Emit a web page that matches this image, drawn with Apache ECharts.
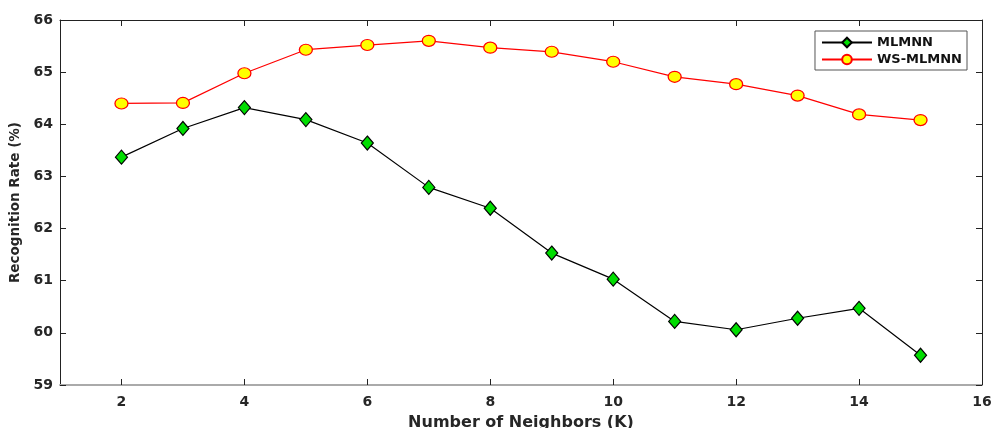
<!DOCTYPE html>
<html>
<head>
<meta charset="utf-8">
<script src="https://cdn.jsdelivr.net/npm/echarts@6/dist/echarts.min.js"></script>
<style>html,body{margin:0;padding:0;background:#fff}#c{width:991px;height:428px}</style>
</head>
<body>
<div id="c"></div>
<script>
const kValues = [2,3,4,5,6,7,8,9,10,11,12,13,14,15];
const mlmnn = [63.37,63.92,64.32,64.09,63.64,62.79,62.39,61.53,61.03,60.22,60.06,60.28,60.47,59.57];
const wsMlmnn = [64.40,64.41,64.98,65.43,65.52,65.60,65.47,65.39,65.20,64.91,64.77,64.55,64.19,64.08];
const xTicks = [2,4,6,8,10,12,14,16];
const seriesNames = ['MLMNN','WS-MLMNN'];

const font = '"DejaVu Sans", sans-serif';
const txt = '#262626';
const chart = echarts.init(document.getElementById('c'));
chart.setOption({
  animation: false,
  backgroundColor: '#fff',
  grid: {left: 60, right: 9, top: 20, bottom: 43, containLabel: false, outerBoundsMode: 'none'},
  legend: {
    right: 24, top: 31, orient: 'vertical',
    itemWidth: 50, itemHeight: 12, itemGap: 4,
    backgroundColor: '#fff', borderColor: '#555', borderWidth: 1,
    padding: [5, 5, 4, 6],
    textStyle: {fontFamily: font, fontWeight: 'bold', fontSize: 13, color: '#111'},
    data: seriesNames
  },
  xAxis: [{
    type: 'value', min: 1, max: 16, position: 'bottom',
    name: 'Number of Neighbors (K)', nameLocation: 'middle', nameGap: 30,
    nameTextStyle: {fontFamily: font, fontWeight: 'bold', fontSize: 16, color: txt},
    axisLine: {show: true, onZero: false, lineStyle: {color: '#aaa', width: 2}},
    axisTick: {show: true, inside: true, length: 6, customValues: xTicks, lineStyle: {color: '#222'}},
    axisLabel: {customValues: xTicks, fontFamily: font, fontWeight: 'bold', fontSize: 14, color: txt, margin: 10},
    splitLine: {show: false}
  },{
    type: 'value', min: 1, max: 16, position: 'top',
    axisLine: {show: true, onZero: false, lineStyle: {color: '#222', width: 1}},
    axisTick: {show: true, inside: true, length: 6, customValues: xTicks, lineStyle: {color: '#222'}},
    axisLabel: {show: false},
    splitLine: {show: false}
  }],
  yAxis: [{
    type: 'value', min: 59, max: 66, interval: 1, position: 'left',
    name: 'Recognition Rate (%)', nameLocation: 'middle', nameGap: 33,
    nameTextStyle: {fontFamily: font, fontWeight: 'bold', fontSize: 13.5, color: txt},
    axisLine: {show: true, onZero: false, lineStyle: {color: '#222', width: 1}},
    axisTick: {show: true, inside: true, length: 6, lineStyle: {color: '#222'}},
    axisLabel: {fontFamily: font, fontWeight: 'bold', fontSize: 14, color: txt, margin: 7},
    splitLine: {show: false}
  },{
    type: 'value', min: 59, max: 66, interval: 1, position: 'right',
    axisLine: {show: true, onZero: false, lineStyle: {color: '#222', width: 1}},
    axisTick: {show: true, inside: true, length: 6, lineStyle: {color: '#222'}},
    axisLabel: {show: false},
    splitLine: {show: false}
  }],
  series: [{
    name: seriesNames[0], type: 'line', xAxisIndex: 0, yAxisIndex: 0,
    data: kValues.map((k, i) => [k, mlmnn[i]]),
    symbol: 'diamond', symbolSize: [12, 14],
    lineStyle: {color: '#000', width: 1.2},
    itemStyle: {color: '#00dd00', borderColor: '#000', borderWidth: 1.2}
  },{
    name: seriesNames[1], type: 'line', xAxisIndex: 0, yAxisIndex: 0,
    data: kValues.map((k, i) => [k, wsMlmnn[i]]),
    symbol: 'circle', symbolSize: [13, 11],
    lineStyle: {color: '#ff0000', width: 1.2},
    itemStyle: {color: '#ffff00', borderColor: '#ff0000', borderWidth: 1.2}
  }]
});
</script>
</body>
</html>
